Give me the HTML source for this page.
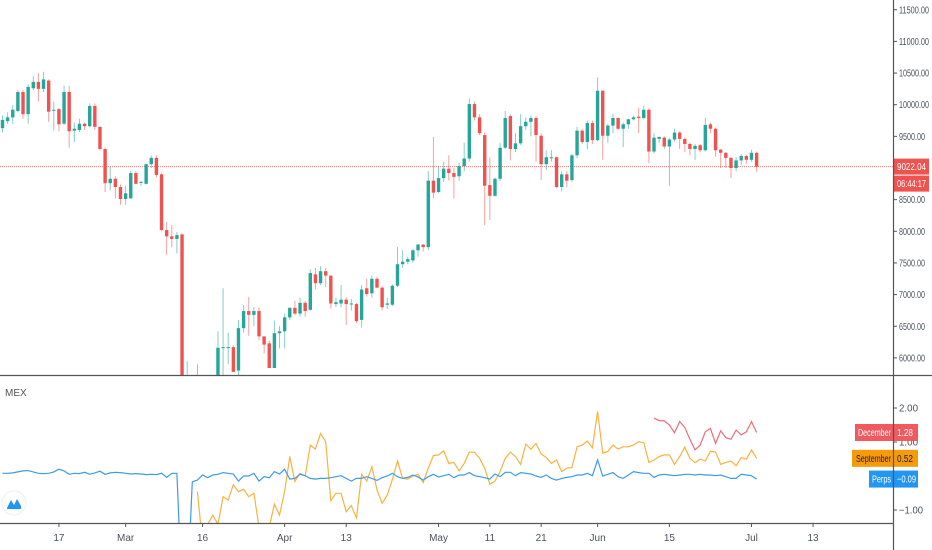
<!DOCTYPE html>
<html><head><meta charset="utf-8"><style>
html,body{margin:0;padding:0;background:#fff;width:932px;height:550px;overflow:hidden}
svg{display:block;font-family:"Liberation Sans",sans-serif;overflow:hidden}
</style></head><body>
<svg id="chart" width="932" height="550" viewBox="0 0 932 550" xmlns="http://www.w3.org/2000/svg">
<defs><clipPath id="mainClip"><rect x="0" y="0" width="893" height="375"/></clipPath>
<clipPath id="subClip"><rect x="0" y="377" width="893" height="146"/></clipPath></defs>
<rect x="0" y="0" width="932" height="550" fill="#fff"/>
<g id="candles" clip-path="url(#mainClip)"></g>
<g id="priceAxis"></g>
<g id="sub" clip-path="url(#subClip)"></g>
<g id="subAxis"></g>
<g id="timeAxis"></g>
<line x1="0" y1="375.5" x2="932" y2="375.5" stroke="#555" stroke-width="1.2"/>
<line x1="0" y1="523.5" x2="893" y2="523.5" stroke="#555" stroke-width="1.2"/>
<line x1="893.5" y1="0" x2="893.5" y2="550" stroke="#555" stroke-width="1.2"/>
<text x="5" y="396" font-size="10" fill="#555">MEX</text>
<g>
<circle cx="14" cy="503" r="12" fill="#fff" stroke="#eee"/>
<path d="M7 508 L11 500 L14 505 L17 499 L21 506 L21 509 L7 509 Z" fill="#2196f3"/>
</g>
</svg>
<script>
const opens=[9630,9740,9800,9900,10200,9850,10260,10360,10250,10380,9920,9930,9700,10200,9590,9600,9700,9660,9980,9650,9300,8760,8830,8700,8510,8520,8920,8770,8750,9060,9160,8900,8020,7920,7880,7950,4850,5600,5200,5380,5000,5330,5420,6170,6170,6170,5800,6470,6740,6680,6740,6340,6230,5840,6390,6420,6640,6790,6700,6870,6760,7320,7180,7370,7300,6850,6860,6920,6860,6850,6600,7100,7020,7250,7110,6840,6840,7140,7480,7520,7540,7700,7790,7750,8800,8620,8840,8990,8920,8870,9030,9150,10010,9800,9520,8730,8560,8830,9320,9820,9300,9390,9660,9730,9790,9510,9060,9170,9170,8700,8900,8810,9200,9590,9410,9710,9440,10220,9510,9670,9790,9620,9690,9770,9810,9790,9920,9260,9460,9480,9340,9450,9560,9460,9380,9300,9360,9280,9690,9620,9290,9240,9160,9000,9120,9190,9130,9240];
const closes=[9760,9800,9920,10200,9850,10280,10360,10250,10400,9890,9920,9690,10200,9580,9620,9700,9660,9980,9650,9300,8760,8830,8700,8510,8600,8920,8750,8780,9060,9160,8890,8020,7920,7880,7940,4850,5600,5200,5380,5000,5330,5420,6160,6170,6170,5780,6470,6740,6680,6740,6340,6210,5840,6390,6420,6640,6790,6700,6870,6740,7340,7180,7370,7300,6860,6880,6920,6850,6860,6580,7080,7010,7250,7110,6800,6860,7140,7480,7520,7560,7700,7790,7750,8800,8610,8840,8990,8920,8860,9030,9150,10010,9800,9550,8720,8560,8830,9320,9790,9300,9390,9660,9730,9790,9520,9060,9170,9170,8700,8900,8800,9200,9590,9410,9710,9440,10220,9510,9670,9790,9620,9690,9770,9800,9790,9920,9260,9480,9490,9340,9450,9560,9460,9380,9300,9350,9280,9680,9620,9280,9240,9160,9000,9120,9190,9130,9240,9022];
const highs=[9830,9880,9990,10230,10230,10320,10450,10500,10520,10400,10050,9950,10300,10300,9720,9780,9720,10020,10020,9660,9320,9020,8870,8740,8720,8960,8950,8800,9070,9200,9200,8920,8150,8100,7990,7970,5950,5650,5900,5380,5550,5450,6420,7100,6400,6200,6600,6830,6960,6800,6800,6340,6270,6590,6500,6700,6800,6900,6950,6900,7400,7420,7450,7420,7300,6950,7150,6960,6930,6870,7150,7250,7300,7280,7130,6950,7160,7750,7700,7600,7720,7800,7800,8950,9490,9020,9100,9200,9000,9080,9400,10100,10050,9850,9560,9170,8850,9400,9900,9850,9550,9850,9800,9830,9820,9550,9280,9280,9180,8950,8950,9220,9650,9620,9750,9750,10430,10230,9700,9850,9800,9720,9780,9830,9950,9980,9940,9550,9500,9500,9470,9620,9580,9480,9400,9380,9380,9790,9720,9640,9300,9250,9170,9170,9220,9210,9290,9260];
const lows=[9560,9700,9700,9880,9780,9700,10230,10050,10200,9730,9590,9580,9680,9320,9410,9570,9600,9640,9600,9280,8620,8650,8520,8420,8420,8520,8740,8720,8740,9000,8850,8000,7630,7750,7650,4500,3800,5100,5100,4450,4950,5050,5300,5700,5900,5780,5700,6400,6350,6500,6280,6070,5850,5840,6150,6150,6600,6680,6650,6650,6750,7080,7150,7120,6780,6800,6800,6520,6750,6550,6480,6970,6950,7100,6750,6770,6820,7120,7420,7480,7500,7600,7680,7700,8520,8600,8780,8800,8520,8800,8950,9100,9750,9520,8100,8180,8550,8800,9300,9120,9250,9360,9600,9500,9100,8810,8970,9100,8680,8630,8700,8780,9150,9380,9300,9380,9420,9130,9400,9550,9600,9330,9620,9750,9550,9770,9080,9230,9400,9300,8720,9420,9300,9250,9200,9130,9250,9260,9550,9180,9000,9000,8840,8950,9050,9070,9100,8940];
const priceTicks=[6000,6500,7000,7500,8000,8500,9000,9500,10000,10500,11000,11500];
const lastPrice=9022.04;
const perps=[0.08,0.08,0.09,0.12,0.15,0.16,0.12,0.08,0.07,0.08,0.12,0.20,0.15,0.05,0.08,0.07,0.11,0.05,0.09,0.14,0.05,0.09,0.11,0.10,0.08,0.06,0.07,0.06,0.04,0.05,0.04,0.08,-0.04,0.08,0.08,-3.5,-3.5,-0.17,-0.12,0.03,-0.05,0.03,0.05,0.10,0.08,0.06,-0.15,0.00,0.00,0.08,-0.15,-0.02,-0.05,0.13,0.06,0.20,-0.09,-0.07,0.05,0.01,-0.07,-0.09,-0.07,-0.07,-0.05,-0.02,0.01,-0.07,-0.15,-0.07,-0.07,-0.02,-0.07,-0.13,-0.05,0.00,0.08,-0.02,-0.07,-0.04,0.03,-0.03,-0.12,-0.02,0.05,-0.03,0.01,0.05,-0.05,0.03,0.03,0.10,0.01,-0.02,-0.05,-0.09,0.06,-0.02,0.11,0.11,0.01,0.10,0.08,0.06,0.00,-0.04,0.03,-0.07,-0.12,-0.07,-0.04,-0.02,0.03,0.03,0.08,0.01,0.47,0.00,0.05,0.10,-0.02,-0.07,0.03,0.13,0.10,0.08,0.08,-0.04,0.03,0.05,0.03,0.01,0.03,0.05,0.05,0.03,0.05,0.03,0.03,0.01,0.03,-0.02,-0.07,-0.07,0.05,0.03,0.01,-0.09];
const september=Array(38).fill(null).concat([-0.46,-2.0,-1.42,-1.15,-1.42,-0.61,-0.71,-0.26,-0.46,-0.39,-0.61,-0.51,-1.5,-1.6,-1.5,-0.83,-1.15,-0.46,0.57,-0.16,0.08,0.00,0.91,0.79,1.25,1.01,-0.73,-0.51,-0.51,-1.05,-0.87,-1.23,0.05,-0.15,0.27,-0.41,-0.80,-0.56,-0.10,0.44,-0.07,-0.09,0.00,0.05,-0.19,0.23,0.60,0.62,0.74,0.37,0.40,0.15,0.37,0.70,0.70,0.52,0.23,-0.24,-0.15,0.13,0.52,0.70,0.57,0.34,0.94,0.79,0.96,0.65,0.54,0.37,0.47,0.13,0.23,0.25,0.86,0.91,1.03,0.83,1.9,0.67,0.72,0.91,0.79,0.86,0.86,0.91,1.01,0.98,0.40,0.47,0.57,0.62,0.62,0.34,0.57,0.85,0.52,0.39,0.50,0.44,0.73,0.70,0.34,0.40,0.44,0.30,0.54,0.49,0.77,0.52]);
const december=Array(127).fill(null).concat([1.70,1.63,1.62,1.50,1.27,1.60,1.43,1.08,0.77,0.91,1.30,1.40,0.96,1.33,1.13,1.08,1.35,1.21,1.30,1.60,1.28]);
const subTicks=[2.00,1.00,-1.00];
const dateLabels=["17","Mar","16","Apr","13","May","11","21","Jun","15","Jul","13"];
const dateIdx=[11,24,39,55,67,85,95,105,116,130,146,158];

const NS="http://www.w3.org/2000/svg";
function xs(i){return 2.5+i*5.13;}
function yp(p){return 168-(p-9000)*0.0633;}
function yv(v){return 476-v*34;}
function mk(tag,attrs,parent){const e=document.createElementNS(NS,tag);for(const k in attrs)e.setAttribute(k,attrs[k]);parent.appendChild(e);return e;}
function txt(parent,x,y,s,w,col,anchor){
  const t=mk('text',{x:x,y:y,'font-size':10,fill:col,'text-anchor':anchor||'start',textLength:w,lengthAdjust:'spacingAndGlyphs'},parent);
  t.textContent=s;return t;
}
const gC=document.getElementById('candles');
const hl=mk('line',{x1:0,x2:893,y1:yp(lastPrice),y2:yp(lastPrice),stroke:'#ef5350','stroke-width':1,'stroke-dasharray':'1,1',opacity:0.8},gC);


for(let i=0;i<opens.length;i++){
  const up=closes[i]>=opens[i];const col=up?'#26a69a':'#ef5350';
  const g=mk('g',{},gC);
  
  
  mk('line',{x1:xs(i),x2:xs(i),y1:yp(highs[i]),y2:yp(lows[i]),stroke:col,'stroke-width':1,opacity:0.55},g);
  const t=yp(Math.max(opens[i],closes[i])),b=yp(Math.min(opens[i],closes[i]));
  mk('rect',{x:xs(i)-1.7,y:t,width:3.4,height:Math.max(1,b-t),fill:col},g);
}
const gA=document.getElementById('priceAxis');
priceTicks.forEach(p=>{
  const s=p.toFixed(2);
  const t=txt(gA,899,yp(p)+3.5,s,s.length>7?30:26,'#4c525e');
  
  
  mk('line',{x1:893,x2:897,y1:yp(p),y2:yp(p),stroke:'#555'},gA);
});
const pb=mk('rect',{x:894,y:yp(lastPrice)-8,width:35,height:16,fill:'#ef5350'},gA);


txt(gA,897,yp(lastPrice)+3.5,lastPrice.toFixed(2),29,'#fff');
const cb=mk('rect',{x:894,y:yp(lastPrice)+9,width:35,height:16,fill:'#ef5350'},gA);


txt(gA,897,yp(lastPrice)+20.5,"06:44:17",29,'#fff');

const gS=document.getElementById('sub');
function series(arr,col,name){
  let d='',pen=false;
  arr.forEach((v,i)=>{if(v===null){pen=false;return;}d+=(pen?'L':'M')+xs(i).toFixed(1)+' '+yv(v).toFixed(1)+' ';pen=true;});
  const p=mk('path',{d:d,fill:'none',stroke:col,'stroke-width':1.2},gS);
  
  
}
series(september,'#f7b243','september-line');
series(december,'#f06b7a','december-line');
series(perps,'#3d9be9','perps-line');
const gSA=document.getElementById('subAxis');
subTicks.forEach(v=>{
  mk('line',{x1:893,x2:897,y1:yv(v),y2:yv(v),stroke:'#555'},gSA);
  const s=v.toFixed(2).replace('-','\u2212');
  const t=txt(gSA,899,yv(v)+3.5,s,v<0?24:19,'#4c525e');
  
  
});
function badge(name,val,col,txtCol,x0,nameW,dn){
  const y=yv(val);
  const r=mk('rect',{x:x0,y:y-8.5,width:918-x0,height:17,fill:col},gSA);
  
  
  txt(gSA,891,y+3.5,name,nameW,txtCol,'end');
  const s=(val<0?'\u2212':'')+Math.abs(val).toFixed(2);
  txt(gSA,897,y+3.5,s,val<0?19:16,txtCol);
}
badge('December',december[december.length-1],'#f05a5f','#fff',855,33,'december-badge');
badge('September',september[september.length-1],'#f59a0c','#222',852,35,'september-badge');
badge('Perps',perps[perps.length-1],'#2196f3','#fff',869,19,'perps-badge');
const gT=document.getElementById('timeAxis');
dateLabels.forEach((s,k)=>{
  const x=xs(dateIdx[k]);
  mk('line',{x1:x,x2:x,y1:523,y2:527,stroke:'#555'},gT);
  const t=mk('text',{x:x,y:541,'font-size':10,fill:'#4c525e','text-anchor':'middle'},gT);t.textContent=s;
  
  
});
</script>
</body></html>
